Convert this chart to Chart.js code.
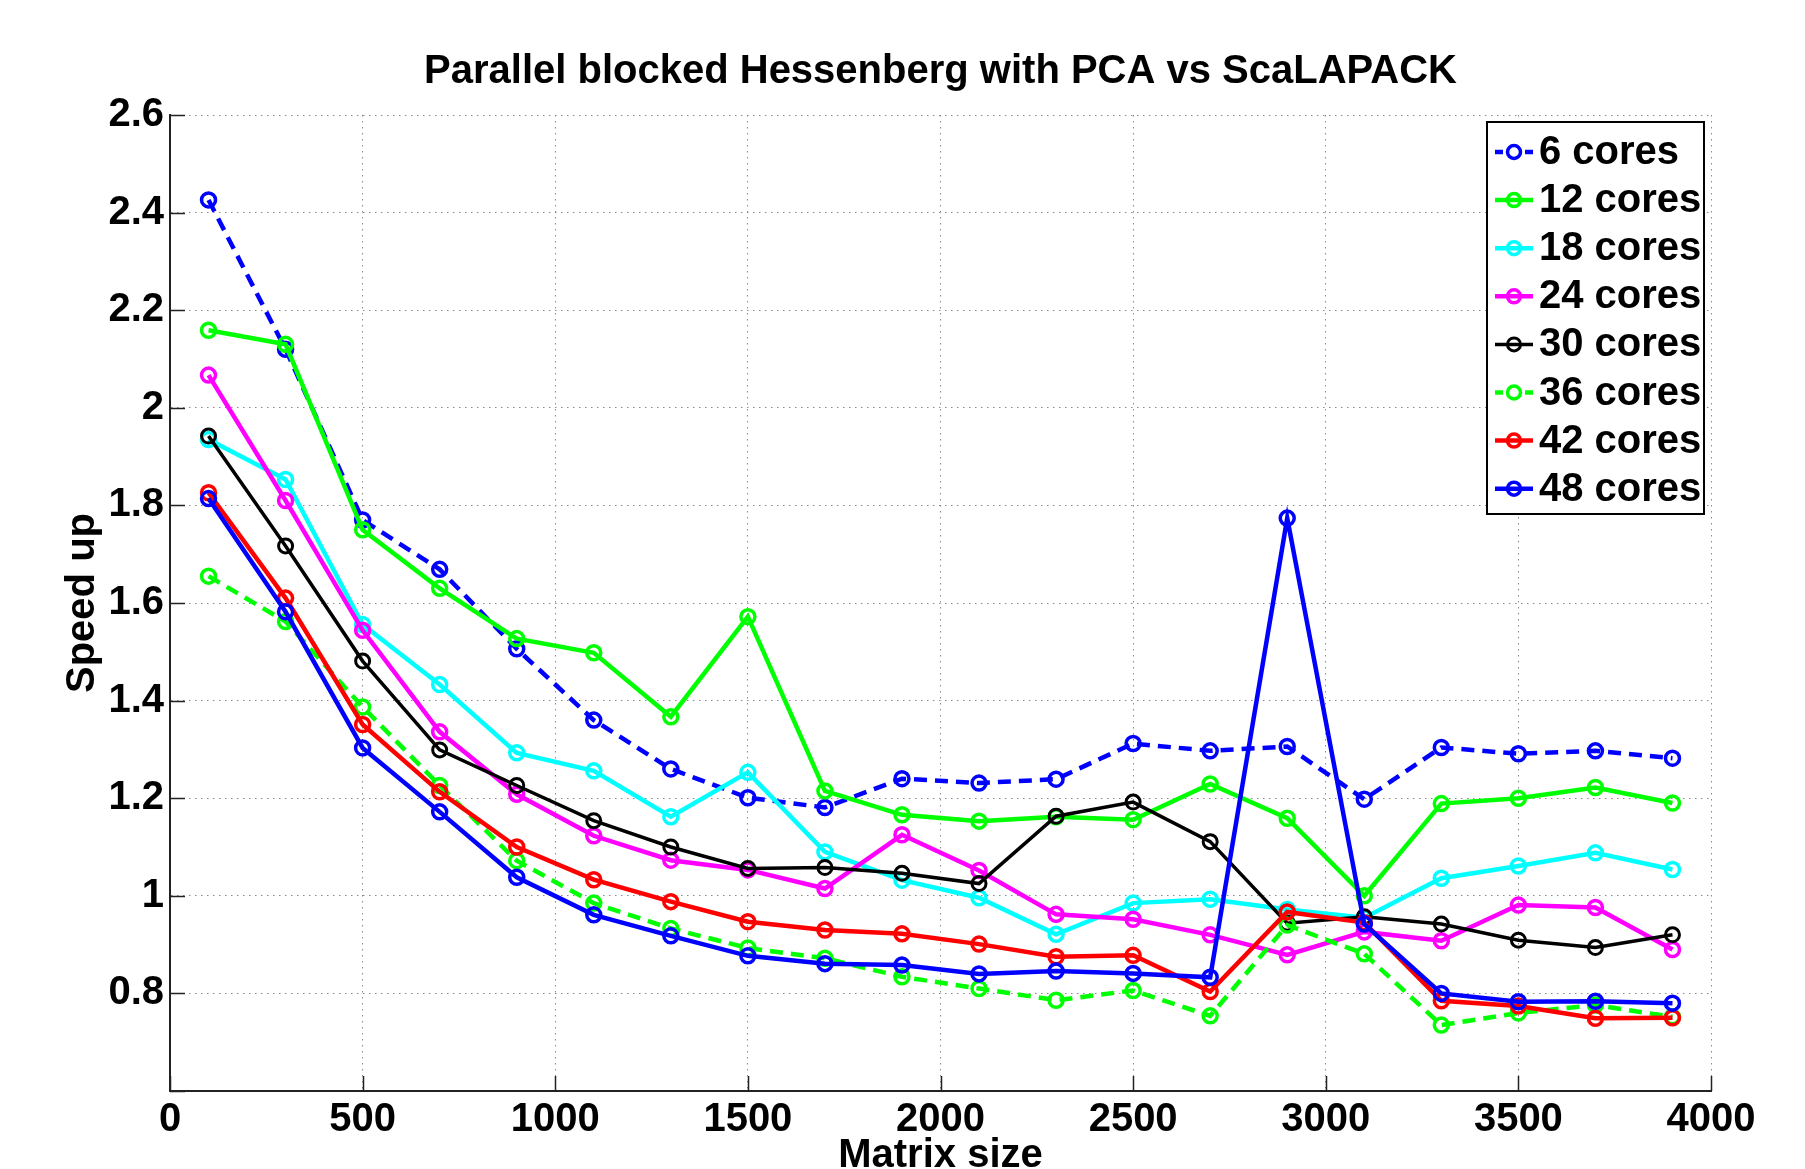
<!DOCTYPE html>
<html>
<head>
<meta charset="utf-8">
<script src="https://cdn.jsdelivr.net/npm/chart.js@4.4.1/dist/chart.umd.min.js"></script>
<style>
  html, body { margin: 0; padding: 0; background: #fff; }
  #wrap { width: 1805px; height: 1169px; position: relative; }
</style>
</head>
<body>
<div id="wrap"><canvas id="chart"></canvas></div>
<script>
// matrix sizes on the x axis
const matrixSizes = [100, 300, 500, 700, 900, 1100, 1300, 1500, 1700, 1900, 2100, 2300, 2500, 2700, 2900, 3100, 3300, 3500, 3700, 3900];

// speed up per core count
const cores6  = [2.426, 2.12, 1.77, 1.669, 1.506, 1.36, 1.26, 1.201, 1.181, 1.24, 1.231, 1.239, 1.312, 1.297, 1.306, 1.198, 1.304, 1.291, 1.297, 1.282];
const cores12 = [2.159, 2.13, 1.75, 1.63, 1.527, 1.498, 1.367, 1.572, 1.215, 1.166, 1.153, 1.162, 1.156, 1.229, 1.159, 1.0, 1.189, 1.2, 1.222, 1.19];
const cores18 = [1.935, 1.853, 1.556, 1.433, 1.293, 1.256, 1.162, 1.253, 1.09, 1.032, 0.996, 0.921, 0.985, 0.993, 0.972, 0.955, 1.036, 1.061, 1.088, 1.054];
const cores24 = [2.067, 1.81, 1.544, 1.336, 1.208, 1.123, 1.073, 1.053, 1.015, 1.125, 1.052, 0.962, 0.952, 0.92, 0.879, 0.926, 0.908, 0.981, 0.976, 0.89];
const cores30 = [1.942, 1.717, 1.481, 1.299, 1.226, 1.154, 1.1, 1.056, 1.058, 1.046, 1.025, 1.163, 1.192, 1.111, 0.944, 0.957, 0.942, 0.909, 0.894, 0.92];
const cores36 = [1.655, 1.562, 1.387, 1.226, 1.072, 0.985, 0.933, 0.893, 0.872, 0.834, 0.81, 0.786, 0.806, 0.754, 0.94, 0.881, 0.735, 0.76, 0.776, 0.752];
const cores42 = [1.826, 1.61, 1.351, 1.213, 1.1, 1.033, 0.988, 0.947, 0.93, 0.922, 0.901, 0.875, 0.878, 0.804, 0.967, 0.945, 0.785, 0.774, 0.749, 0.75];
const cores48 = [1.814, 1.582, 1.303, 1.172, 1.038, 0.961, 0.918, 0.877, 0.861, 0.858, 0.84, 0.846, 0.841, 0.833, 1.774, 0.942, 0.8, 0.783, 0.784, 0.78];

const seriesLabels = ['6 cores', '12 cores', '18 cores', '24 cores', '30 cores', '36 cores', '42 cores', '48 cores'];
const seriesValues = [cores6, cores12, cores18, cores24, cores30, cores36, cores42, cores48];

const xTickValues = [0, 500, 1000, 1500, 2000, 2500, 3000, 3500, 4000];
const yTickLabels = ['0.8', '1', '1.2', '1.4', '1.6', '1.8', '2', '2.2', '2.4', '2.6'];

// matlab style colours
const colors = ['#0000ff', '#00ff00', '#00ffff', '#ff00ff', '#000000', '#00ff00', '#ff0000', '#0000ff'];
const dashed = [true, false, false, false, false, true, false, false];

const FONT = '"Liberation Sans", Arial, Helvetica, sans-serif';
const FSIZE = 40;

const datasets = seriesValues.map((vals, i) => ({
    label: seriesLabels[i],
    data: vals.map((v, j) => ({ x: matrixSizes[j], y: v })),
    borderColor: colors[i],
    backgroundColor: 'transparent',
    borderWidth: i === 4 ? 3.5 : 4.5,
    borderDash: dashed[i] ? [13, 8] : [],
    pointStyle: 'circle',
    pointRadius: 7,
    pointBorderWidth: i === 4 ? 3 : 3.5,
    pointBorderColor: colors[i],
    pointBackgroundColor: 'transparent',
    tension: 0,
    fill: false,
    order: seriesValues.length - i
}));

// tick marks pointing into the plot, like matlab
const innerTicks = {
    id: 'innerTicks',
    afterDatasetsDraw(chart) {
        const { ctx, chartArea, scales } = chart;
        ctx.save();
        ctx.strokeStyle = '#222';
        ctx.lineWidth = 1.5;
        ctx.beginPath();
        scales.y.ticks.forEach(t => {
            const py = Math.round(scales.y.getPixelForValue(t.value)) + 0.5;
            ctx.moveTo(chartArea.left, py);
            ctx.lineTo(chartArea.left + 15, py);
        });
        scales.x.ticks.forEach(t => {
            const px = Math.round(scales.x.getPixelForValue(t.value)) + 0.5;
            ctx.moveTo(px, chartArea.bottom);
            ctx.lineTo(px, chartArea.bottom - 15);
        });
        ctx.stroke();
        ctx.restore();
    }
};

// boxed legend inside the top right corner
const boxLegend = {
    id: 'boxLegend',
    afterDraw(chart) {
        const { ctx, chartArea } = chart;
        const sets = chart.data.datasets;
        const w = 217, h = 392, rowH = 48.1;
        const x0 = chartArea.right - 7 - w;
        const y0 = chartArea.top + 7;
        ctx.save();
        ctx.fillStyle = '#fff';
        ctx.fillRect(x0, y0, w, h);
        ctx.strokeStyle = '#000';
        ctx.lineWidth = 2;
        ctx.strokeRect(x0, y0, w, h);
        ctx.font = 'bold ' + FSIZE + 'px ' + FONT;
        ctx.textBaseline = 'middle';
        ctx.textAlign = 'left';
        sets.forEach((ds, i) => {
            const cy = y0 + 30 + i * rowH;
            const mx = x0 + 27;
            ctx.strokeStyle = ds.borderColor;
            ctx.lineWidth = ds.borderWidth;
            ctx.beginPath();
            if (dashed[i]) {
                ctx.moveTo(x0 + 8, cy); ctx.lineTo(x0 + 16, cy);
                ctx.moveTo(x0 + 38, cy); ctx.lineTo(x0 + 46, cy);
            } else {
                ctx.moveTo(x0 + 8, cy); ctx.lineTo(x0 + 46, cy);
            }
            ctx.stroke();
            ctx.lineWidth = ds.pointBorderWidth;
            ctx.beginPath();
            ctx.arc(mx, cy, 6.5, 0, Math.PI * 2);
            ctx.stroke();
            ctx.fillStyle = '#000';
            ctx.fillText(ds.label, x0 + 52, cy + 1);
        });
        ctx.restore();
    }
};

const ctx = document.getElementById('chart').getContext('2d');
const chart = new Chart(ctx, {
    type: 'line',
    data: { datasets: datasets },
    options: {
        responsive: true,
        maintainAspectRatio: false,
        animation: false,
        devicePixelRatio: 1,
        layout: { padding: { left: 0, right: 94, top: 0, bottom: 0 } },
        plugins: {
            legend: { display: false },
            tooltip: { enabled: false },
            title: {
                display: true,
                text: 'Parallel blocked Hessenberg with PCA vs ScaLAPACK',
                fullSize: false,
                color: '#000',
                font: { family: FONT, size: FSIZE, weight: 'bold', lineHeight: 1.2 },
                padding: { top: 48, bottom: 19 }
            }
        },
        scales: {
            x: {
                type: 'linear',
                min: 0,
                max: 4000,
                afterFit: s => { s.height = 78; },
                afterBuildTicks: s => { s.ticks = xTickValues.map(v => ({ value: v })); },
                ticks: {
                    color: '#000',
                    padding: 5,
                    maxRotation: 0,
                    font: { family: FONT, size: FSIZE, weight: 'bold', lineHeight: 1.2 },
                    callback: v => String(v)
                },
                grid: {
                    color: '#8a8a8a',
                    lineWidth: 1,
                    drawTicks: false
                },
                border: { display: true, color: '#222', width: 2, dash: [1.5, 4.5] },
                title: {
                    display: true,
                    text: 'Matrix size',
                    color: '#000',
                    font: { family: FONT, size: FSIZE, weight: 'bold', lineHeight: 1.2 },
                    padding: { top: 0, bottom: -10.8 }
                }
            },
            y: {
                type: 'linear',
                min: 0.6,
                max: 2.6,
                afterFit: s => { s.width = 170; },
                ticks: {
                    stepSize: 0.2,
                    color: '#000',
                    padding: 6,
                    font: { family: FONT, size: FSIZE, weight: 'bold', lineHeight: 1.2 },
                    callback: v => {
                        const lbl = String(Number(v.toFixed(1)));
                        return yTickLabels.includes(lbl) ? lbl : '';
                    }
                },
                grid: {
                    color: '#8a8a8a',
                    lineWidth: 1,
                    drawTicks: false
                },
                border: { display: true, color: '#222', width: 2, dash: [1.5, 4.5] },
                title: {
                    display: true,
                    text: 'Speed up',
                    color: '#000',
                    font: { family: FONT, size: FSIZE, weight: 'bold', lineHeight: 1.2 },
                    padding: { top: 59, bottom: 0 }
                }
            }
        }
    },
    plugins: [innerTicks, boxLegend]
});
</script>
</body>
</html>
